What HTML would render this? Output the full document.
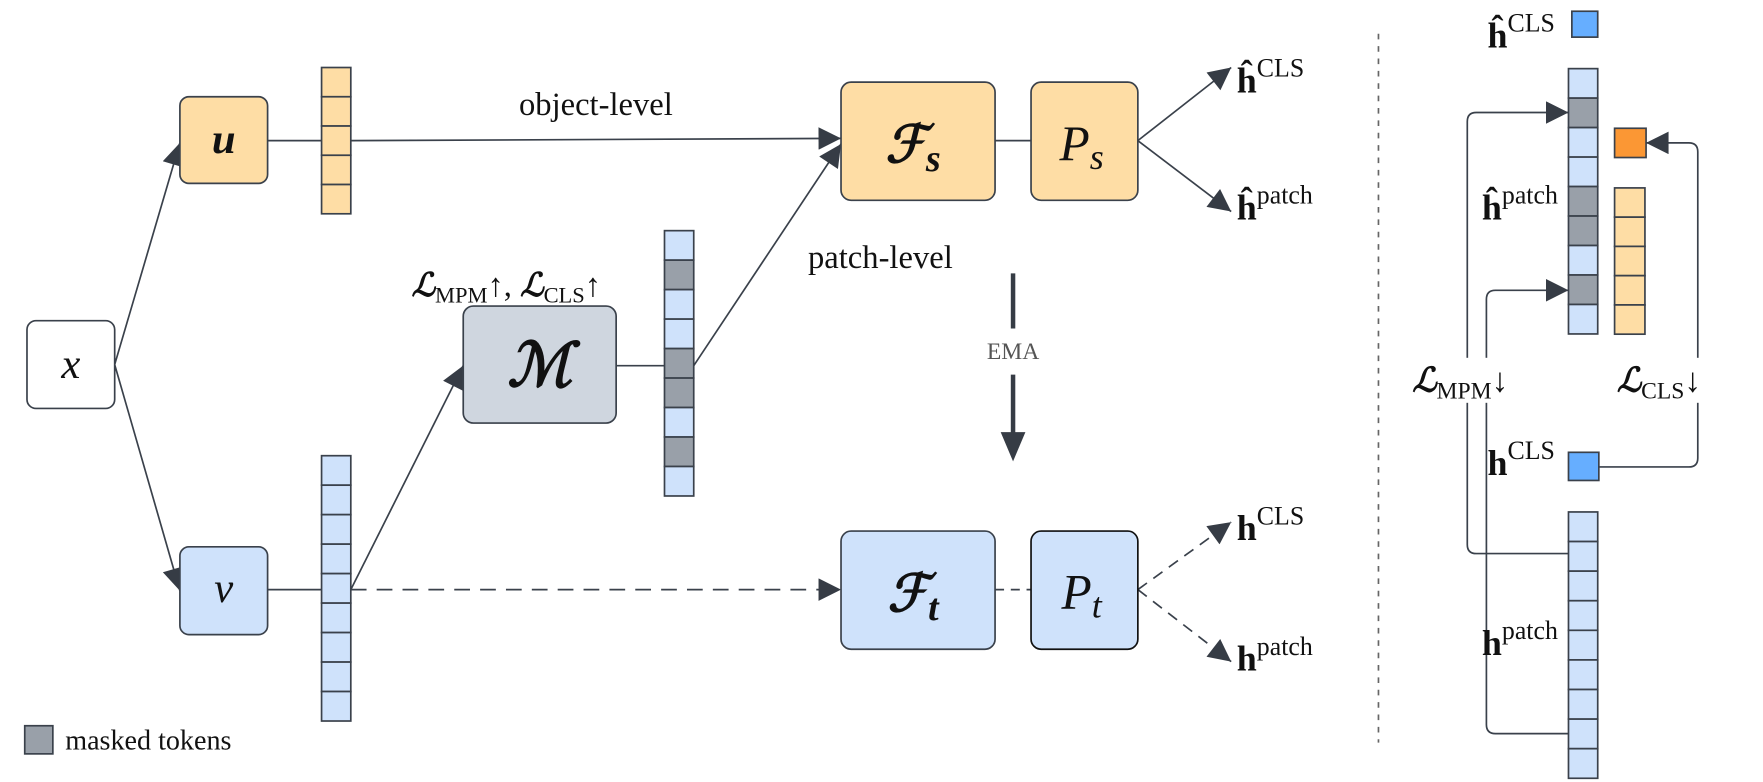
<!DOCTYPE html>
<html><head><meta charset="utf-8"><style>
html,body{margin:0;padding:0;background:#fff;}
svg{display:block;}
text{font-family:"Liberation Serif","DejaVu Serif",serif;fill:#111;}
.it{font-style:italic;}
.b{font-weight:bold;}
</style></head><body>
<svg width="1763" height="782" viewBox="0 0 1568 695" preserveAspectRatio="none" xmlns="http://www.w3.org/2000/svg">
<defs>
<marker id="ahb" viewBox="0 0 10 10" refX="10" refY="5" markerWidth="26" markerHeight="20" markerUnits="userSpaceOnUse" orient="auto"><path d="M0,0 L10,5 L0,10 z" fill="#363c45"/></marker>
</defs>
<g stroke="#3a414b" stroke-width="1.5" fill="none">
<line x1="102" y1="324" x2="160" y2="127" marker-end="url(#ahb)"/>
<line x1="102" y1="324" x2="160" y2="525" marker-end="url(#ahb)"/>
<line x1="238" y1="125" x2="286" y2="125"/>
<line x1="312" y1="125" x2="748" y2="123" marker-end="url(#ahb)"/>
<line x1="238" y1="524" x2="286" y2="524"/>
<line x1="312" y1="524" x2="412" y2="325" marker-end="url(#ahb)"/>
<line x1="312" y1="524" x2="748" y2="524" stroke-dasharray="14,9" marker-end="url(#ahb)"/>
<line x1="548" y1="325" x2="591" y2="325"/>
<line x1="617" y1="325" x2="748" y2="128" marker-end="url(#ahb)"/>
<line x1="885" y1="125" x2="917" y2="125"/>
<line x1="885" y1="524" x2="917" y2="524" stroke-dasharray="8,6"/>
<line x1="1012" y1="125" x2="1095" y2="60" marker-end="url(#ahb)"/>
<line x1="1012" y1="125" x2="1095" y2="188" marker-end="url(#ahb)"/>
<line x1="1012" y1="524" x2="1095" y2="464" stroke-dasharray="10,7" marker-end="url(#ahb)"/>
<line x1="1012" y1="524" x2="1095" y2="588" stroke-dasharray="10,7" marker-end="url(#ahb)"/>
<path d="M1395,492 H1313 Q1305,492 1305,484 V108 Q1305,100 1313,100 H1395" marker-end="url(#ahb)"/>
<path d="M1395,652 H1330 Q1322,652 1322,644 V266 Q1322,258 1330,258 H1395" marker-end="url(#ahb)"/>
<path d="M1422,415 H1502 Q1510,415 1510,407 V135 Q1510,127 1502,127 H1464" marker-end="url(#ahb)"/>
</g>
<line x1="901" y1="243" x2="901" y2="292" stroke="#363c45" stroke-width="4"/>
<text x="901" y="319" font-size="21" text-anchor="middle" style="fill:#555">EMA</text>
<line x1="901" y1="333" x2="901" y2="386" stroke="#363c45" stroke-width="4"/>
<path d="M890,384 L912,384 L901,410 z" fill="#363c45"/>
<line x1="1226" y1="30" x2="1226" y2="660" stroke="#666" stroke-width="1.5" stroke-dasharray="5,6"/>
<g stroke="#3a414b" stroke-width="1.5">
<rect x="24" y="285" width="78" height="78" rx="8" fill="#fff"/>
<rect x="160" y="86" width="78" height="77" rx="8" fill="#fedda5"/>
<rect x="160" y="486" width="78" height="78" rx="8" fill="#cfe2fb"/>
<rect x="412" y="272" width="136" height="104" rx="9" fill="#cfd6df"/>
<rect x="748" y="73" width="137" height="105" rx="9" fill="#fedda5"/>
<rect x="917" y="73" width="95" height="105" rx="9" fill="#fedda5"/>
<rect x="748" y="472" width="137" height="105" rx="9" fill="#cfe2fb"/>
<rect x="917" y="472" width="95" height="105" rx="9" fill="#cfe2fb" stroke="#111"/>
<rect x="22" y="645" width="25" height="25" fill="#99a0a9"/>
<rect x="1398" y="10" width="23" height="23" fill="#66aeff"/>
<rect x="1436" y="114" width="28" height="26" fill="#fb9734"/>
<rect x="1395" y="402" width="27" height="25" fill="#66aeff"/>
</g>
<g stroke="#3a414b" stroke-width="1.5">
<rect x="286" y="60" width="26" height="26" fill="#fedda5"/><rect x="286" y="86" width="26" height="26" fill="#fedda5"/><rect x="286" y="112" width="26" height="26" fill="#fedda5"/><rect x="286" y="138" width="26" height="26" fill="#fedda5"/><rect x="286" y="164" width="26" height="26" fill="#fedda5"/>
<rect x="286" y="405" width="26" height="26.2" fill="#cfe2fb"/><rect x="286" y="431.2" width="26" height="26.2" fill="#cfe2fb"/><rect x="286" y="457.4" width="26" height="26.2" fill="#cfe2fb"/><rect x="286" y="483.6" width="26" height="26.2" fill="#cfe2fb"/><rect x="286" y="509.8" width="26" height="26.2" fill="#cfe2fb"/><rect x="286" y="536" width="26" height="26.2" fill="#cfe2fb"/><rect x="286" y="562.2" width="26" height="26.2" fill="#cfe2fb"/><rect x="286" y="588.4" width="26" height="26.2" fill="#cfe2fb"/><rect x="286" y="614.6" width="26" height="26.2" fill="#cfe2fb"/>
<rect x="591" y="205" width="26" height="26.2" fill="#cfe2fb"/><rect x="591" y="231.2" width="26" height="26.2" fill="#99a0a9"/><rect x="591" y="257.4" width="26" height="26.2" fill="#cfe2fb"/><rect x="591" y="283.6" width="26" height="26.2" fill="#cfe2fb"/><rect x="591" y="309.8" width="26" height="26.2" fill="#99a0a9"/><rect x="591" y="336" width="26" height="26.2" fill="#99a0a9"/><rect x="591" y="362.2" width="26" height="26.2" fill="#cfe2fb"/><rect x="591" y="388.4" width="26" height="26.2" fill="#99a0a9"/><rect x="591" y="414.6" width="26" height="26.2" fill="#cfe2fb"/>
<rect x="1395" y="61" width="26" height="26.2" fill="#cfe2fb"/><rect x="1395" y="87.2" width="26" height="26.2" fill="#99a0a9"/><rect x="1395" y="113.4" width="26" height="26.2" fill="#cfe2fb"/><rect x="1395" y="139.6" width="26" height="26.2" fill="#cfe2fb"/><rect x="1395" y="165.8" width="26" height="26.2" fill="#99a0a9"/><rect x="1395" y="192" width="26" height="26.2" fill="#99a0a9"/><rect x="1395" y="218.2" width="26" height="26.2" fill="#cfe2fb"/><rect x="1395" y="244.4" width="26" height="26.2" fill="#99a0a9"/><rect x="1395" y="270.6" width="26" height="26.2" fill="#cfe2fb"/>
<rect x="1436" y="167" width="27" height="26" fill="#fedda5"/><rect x="1436" y="193" width="27" height="26" fill="#fedda5"/><rect x="1436" y="219" width="27" height="26" fill="#fedda5"/><rect x="1436" y="245" width="27" height="26" fill="#fedda5"/><rect x="1436" y="271" width="27" height="26" fill="#fedda5"/>
<rect x="1395" y="455" width="26" height="26.3" fill="#cfe2fb"/><rect x="1395" y="481.3" width="26" height="26.3" fill="#cfe2fb"/><rect x="1395" y="507.6" width="26" height="26.3" fill="#cfe2fb"/><rect x="1395" y="533.9" width="26" height="26.3" fill="#cfe2fb"/><rect x="1395" y="560.2" width="26" height="26.3" fill="#cfe2fb"/><rect x="1395" y="586.5" width="26" height="26.3" fill="#cfe2fb"/><rect x="1395" y="612.8" width="26" height="26.3" fill="#cfe2fb"/><rect x="1395" y="639.1" width="26" height="26.3" fill="#cfe2fb"/><rect x="1395" y="665.4" width="26" height="26.3" fill="#cfe2fb"/>
</g>
<text x="63" y="336" font-size="38" class="it" text-anchor="middle">x</text>
<text x="199" y="136" font-size="38" class="it b" text-anchor="middle">u</text>
<text x="199" y="535" font-size="38" class="it" text-anchor="middle">v</text>
<text x="480" y="343" font-size="54" class="it b" text-anchor="middle">ℳ</text>
<text x="812" y="144" font-size="46" class="it b" text-anchor="middle">ℱ<tspan font-size="34" dy="8">s</tspan></text>
<text x="962" y="142" font-size="44" class="it" text-anchor="middle">P<tspan font-size="32" dy="8">s</tspan></text>
<text x="812" y="543" font-size="46" class="it b" text-anchor="middle">ℱ<tspan font-size="34" dy="8">t</tspan></text>
<text x="962" y="541" font-size="44" class="it" text-anchor="middle">P<tspan font-size="32" dy="8">t</tspan></text>
<text x="530" y="102" font-size="29" text-anchor="middle">object-level</text>
<text x="783" y="238" font-size="29" text-anchor="middle">patch-level</text>
<text x="366" y="263" font-size="29"><tspan class="it b">ℒ</tspan><tspan font-size="20" dy="6">MPM</tspan><tspan dy="-6">↑, </tspan><tspan class="it b">ℒ</tspan><tspan font-size="20" dy="6">CLS</tspan><tspan dy="-6">↑</tspan></text>
<text x="58" y="666" font-size="25">masked tokens</text>
<text x="1100" y="82" font-size="32" class="b">ĥ<tspan font-size="23" font-weight="normal" dy="-14">CLS</tspan></text>
<text x="1100" y="195" font-size="32" class="b">ĥ<tspan font-size="23" font-weight="normal" dy="-14">patch</tspan></text>
<text x="1100" y="480" font-size="32" class="b">h<tspan font-size="23" font-weight="normal" dy="-14">CLS</tspan></text>
<text x="1100" y="596" font-size="32" class="b">h<tspan font-size="23" font-weight="normal" dy="-14">patch</tspan></text>
<text x="1323" y="42" font-size="32" class="b">ĥ<tspan font-size="23" font-weight="normal" dy="-14">CLS</tspan></text>
<text x="1318" y="195" font-size="32" class="b">ĥ<tspan font-size="23" font-weight="normal" dy="-14">patch</tspan></text>
<text x="1323" y="422" font-size="32" class="b">h<tspan font-size="23" font-weight="normal" dy="-14">CLS</tspan></text>
<text x="1318" y="582" font-size="32" class="b">h<tspan font-size="23" font-weight="normal" dy="-14">patch</tspan></text>
<rect x="1256" y="318" width="108" height="40" fill="#fff"/>
<text x="1256" y="348" font-size="30"><tspan class="it b">ℒ</tspan><tspan font-size="21" dy="6">MPM</tspan><tspan dy="-6">↓</tspan></text>
<rect x="1438" y="318" width="117" height="40" fill="#fff"/>
<text x="1438" y="348" font-size="30"><tspan class="it b">ℒ</tspan><tspan font-size="21" dy="6">CLS</tspan><tspan dy="-6">↓</tspan></text>
</svg>
</body></html>
